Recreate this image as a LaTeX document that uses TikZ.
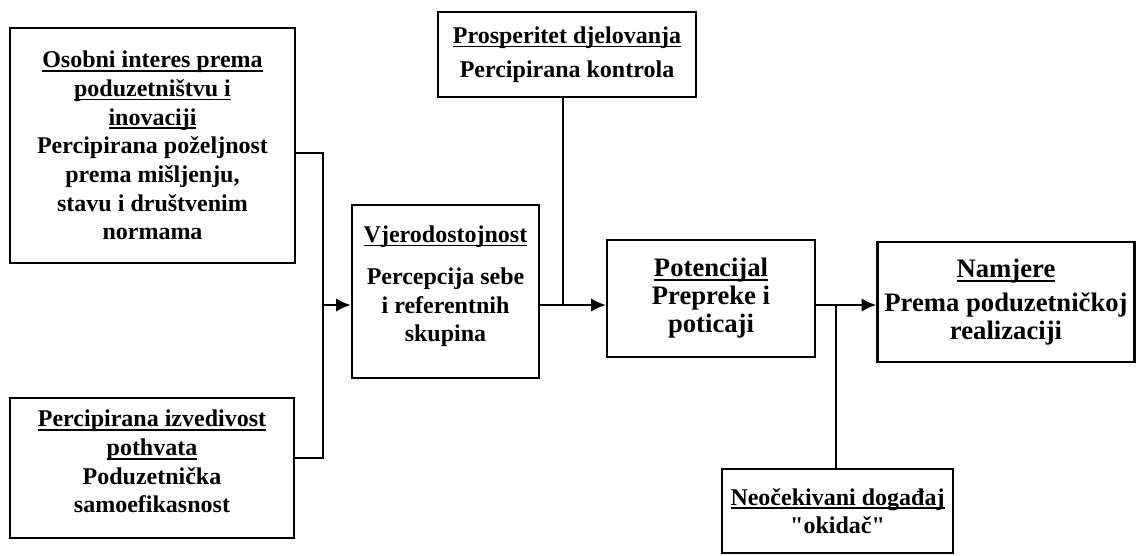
\documentclass[tikz,border=0pt]{standalone}
\usepackage{fontspec}
\setmainfont{Liberation Serif}
\usetikzlibrary{arrows.meta}

\newcommand{\naslov}[1]{\setbox0\hbox{#1}\rlap{\rule[-3pt]{\wd0}{1.3pt}}\box0}

\tikzset{
	okvir/.style={draw, line width=1.9pt, align=center, inner sep=2pt,
		font=\bfseries\fontsize{18}{21.5}\selectfont},
	veliki/.style={okvir, font=\bfseries\fontsize{20}{21}\selectfont},
	veza/.style={line width=1.5pt},
	strelica/.style={veza, -{Latex[length=11pt,width=10pt]}},
}

\begin{document}
\begin{tikzpicture}[x=0.75pt, y=-0.75pt]
	\useasboundingbox (0,0) rectangle (1137,556);

	\node[okvir, minimum width=213.75pt, minimum height=176.25pt] (A) at (152.5,145.5)
		{\naslov{Osobni interes prema}\\ \naslov{poduzetništvu i}\\ \naslov{inovaciji}\\
		 Percipirana poželjnost\\ prema mišljenju,\\ stavu i društvenim\\ normama};
	\node[okvir, minimum width=213pt, minimum height=105pt] (B) at (152,468)
		{\naslov{Percipirana izvedivost}\\ \naslov{pothvata}\\ Poduzetnička\\ samoefikasnost\\[-12pt]\mbox{}};
	\node[okvir, minimum width=140.25pt, minimum height=129.75pt] (Vj) at (445.5,291.5)
		{\naslov{Vjerodostojnost}\\[10pt] Percepcija sebe\\ i referentnih\\ skupina\\[-10pt]\mbox{}};
	\node[okvir, minimum width=193.5pt, minimum height=63.75pt] (Pr) at (567,54.5)
		{\naslov{Prosperitet djelovanja}\\[4pt] Percipirana kontrola};
	\node[veliki, minimum width=156pt, minimum height=87.75pt] (Pot) at (711,298.5)
		{\naslov{Potencijal}\\ Prepreke i\\ poticaji};
	\node[veliki, minimum width=192.75pt, minimum height=90pt] (Nam) at (1006,302)
		{\naslov{Namjere}\\[4pt] Prema poduzetničkoj\\ realizaciji};
	\node[okvir, minimum width=173.25pt, minimum height=63pt] (Neo) at (837.5,511)
		{\naslov{Neočekivani događaj}\\ \textquotedbl okidač\textquotedbl};

	\coordinate (gore) at (323,153);
	\coordinate (dolje) at (323,458);
	\coordinate (spoj) at (323,305);
	\coordinate (spojPr) at (563,305);
	\coordinate (spojNeo) at (836,305);

	\draw[veza] (A.east |- gore) -- (gore) -- (dolje) -- (B.east |- dolje);
	\draw[strelica] (spoj) -- (Vj.west |- spoj);
	\draw[strelica] (Vj.east |- spojPr) -- (Pot.west |- spojPr);
	\draw[veza] (Pr.south -| spojPr) -- (spojPr);
	\draw[strelica] (Pot.east |- spojNeo) -- (Nam.west |- spojNeo);
	\draw[veza] (Neo.north -| spojNeo) -- (spojNeo);
\end{tikzpicture}
\end{document}
